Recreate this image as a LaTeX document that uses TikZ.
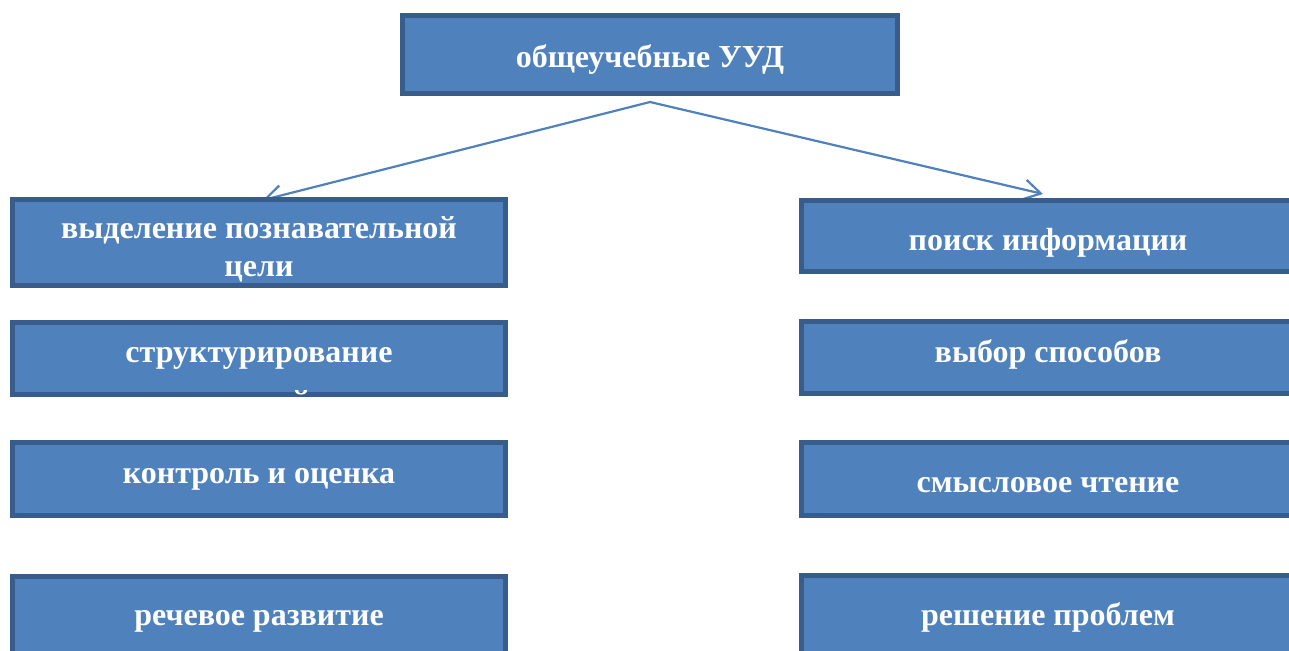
\documentclass[tikz,border=0pt]{standalone}
\usepackage{fontspec}
\setmainfont{Liberation Serif}
\usetikzlibrary{arrows.meta,backgrounds}
\definecolor{boxfill}{HTML}{4F81BD}
\definecolor{boxline}{HTML}{385D8A}
\tikzset{
	box/.style={draw=boxline, fill=boxfill, line width=2.5pt, minimum width=246.5pt, inner sep=0pt},
	lbl/.style={text=white, font=\bfseries\fontsize{16}{19}\selectfont, align=center, inner sep=0pt, anchor=base},
	link/.style={draw=boxfill, line width=1.1pt, -{Straight Barb[length=8.5pt,width=10pt]}}
}

\begin{document}
\begin{tikzpicture}[x=0.5pt,y=-0.5pt]
			%%%%% START %%%%%
			\clip (0,0) rectangle (1289,650);
			
			\node[box, minimum width=247.5pt, minimum height=39pt] (uud) at (650,54.5) {};
			\node[lbl] (uudtxt) at (650,67.5) {общеучебные УУД};
			
			% left column
			\node[box, minimum height=43pt] (goal) at (259,242.5) {};
			\node[lbl] (goaltxt) at (259,276.5) {выделение познавательной\\цели};
			
			\node[box, minimum height=36pt] (struct) at (259,358.5) {};
			\begin{scope}
				\clip ([xshift=1.25pt,yshift=-1.25pt]struct.north west) rectangle ([xshift=-1.25pt,yshift=1.25pt]struct.south east);
				\node[lbl] (structtxt) at (259,412) {структурирование\\[6pt]знаний};
			\end{scope}
			
			\node[box, minimum height=36.5pt] (ctrl) at (259,479) {};
			\node[lbl] (ctrltxt) at (259,483.5) {контроль и оценка};
			
			\node[box, minimum height=40.5pt] (speech) at (259,617) {};
			\node[lbl] (speechtxt) at (259,625.5) {речевое развитие};
			
			% right column
			\node[box, minimum height=35.5pt] (search) at (1048,236) {};
			\node[lbl] (searchtxt) at (1048,250.5) {поиск информации};
			
			\node[box, minimum height=36pt] (choice) at (1048,357.5) {};
			\node[lbl] (choicetxt) at (1048,362.5) {выбор способов};
			
			\node[box, minimum height=36.5pt] (reading) at (1048,479) {};
			\node[lbl] (readingtxt) at (1048,492.5) {смысловое чтение};
			
			\node[box, minimum height=41pt] (problem) at (1048,616.5) {};
			\node[lbl] (problemtxt) at (1048,625.5) {решение проблем};
			
			\begin{pgfonlayer}{background}
				\draw[link] ([yshift=-3pt]uud.south) -- ([xshift=2pt,yshift=-1.5pt]goal.north);
				\draw[link] ([yshift=-3pt]uud.south) -- ([xshift=-2.5pt,yshift=2pt]search.north);
			\end{pgfonlayer}
			%%%%% END %%%%%
\end{tikzpicture}
\end{document}
